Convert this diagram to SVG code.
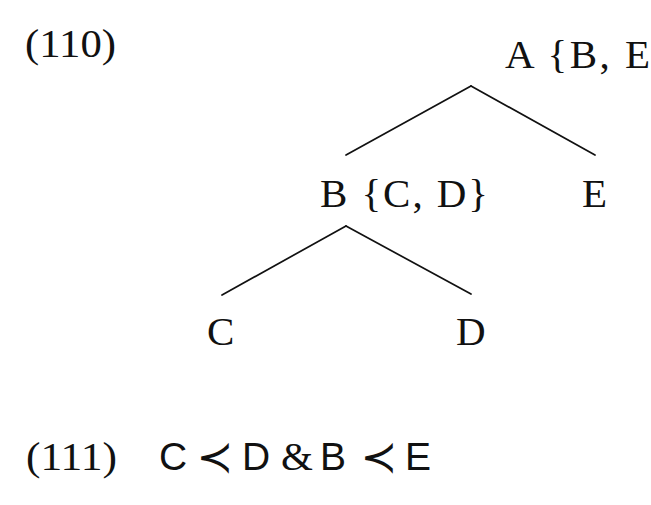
<svg xmlns="http://www.w3.org/2000/svg" width="651" height="505" viewBox="0 0 651 505">
<style>
.serif{font-family:"Liberation Serif","DejaVu Serif",serif;font-size:41px;fill:#111}
.sans{font-family:"Liberation Sans","DejaVu Sans",sans-serif;font-size:39px;fill:#111}
.sym{font-family:"DejaVu Sans",sans-serif;font-size:44px;fill:#111}
.edge{stroke:#111;stroke-width:1.7;fill:none;stroke-linecap:round}
</style>
<rect width="651" height="505" fill="#fff"/>
<g id="label-110"><text class="serif" x="25" y="57" textLength="91" lengthAdjust="spacingAndGlyphs">(110)</text></g>
<g id="connectors">
<line class="edge" x1="471" y1="86" x2="346" y2="155"/>
<line class="edge" x1="471" y1="86" x2="595" y2="155"/>
<line class="edge" x1="346" y1="226" x2="222" y2="295"/>
<line class="edge" x1="346" y1="226" x2="471" y2="294"/>
</g>
<g id="node-A"><text class="serif" x="505" y="68" textLength="145" lengthAdjust="spacing">A {B, E</text></g>
<g id="node-B"><text class="serif" x="320" y="207" textLength="168" lengthAdjust="spacing">B {C, D}</text></g>
<g id="node-E"><text class="serif" x="582" y="207">E</text></g>
<g id="node-C"><text class="serif" x="207" y="345">C</text></g>
<g id="node-D"><text class="serif" x="456" y="345">D</text></g>
<g id="label-111">
<text class="serif" x="26" y="470" textLength="91" lengthAdjust="spacingAndGlyphs">(111)</text>
<text text-anchor="middle" y="470"><tspan class="sans" x="173">C</tspan><tspan class="sym" x="215" y="472">≺</tspan><tspan class="sans" x="256" y="470">D</tspan><tspan class="serif" x="297">&amp;</tspan><tspan class="sans" x="333">B</tspan><tspan class="sym" x="379" y="472">≺</tspan><tspan class="sans" x="418" y="470">E</tspan></text>
</g>
</svg>
